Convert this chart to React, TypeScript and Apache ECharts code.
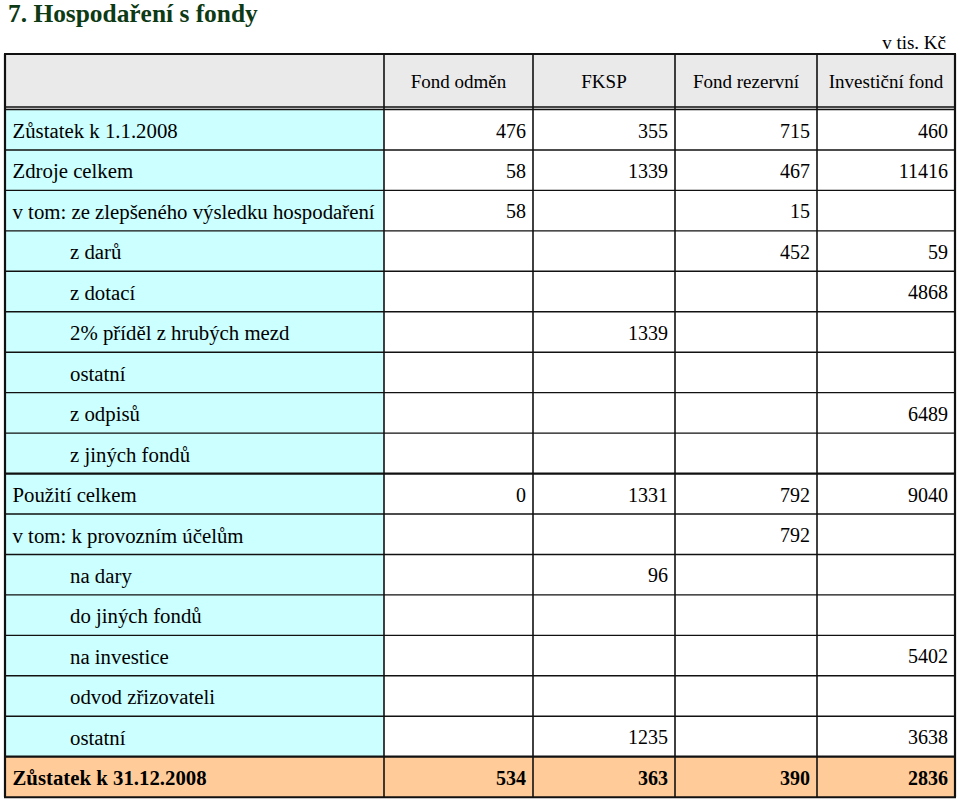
import React, { useEffect, useRef } from "react";
import * as echarts from "echarts";

// ---- data ----
const title = "7. Hospodaření s fondy";
const unitNote = "v tis. Kč";
const columnHeaders = ["Fond odměn", "FKSP", "Fond rezervní", "Investiční fond"];
const rowLabels = [
  "Zůstatek k 1.1.2008",
  "Zdroje celkem",
  "v tom: ze zlepšeného výsledku hospodaření",
  "z darů",
  "z dotací",
  "2% příděl z hrubých mezd",
  "ostatní",
  "z odpisů",
  "z jiných fondů",
  "Použití celkem",
  "v tom: k provozním účelům",
  "na dary",
  "do jiných fondů",
  "na investice",
  "odvod zřizovateli",
  "ostatní",
  "Zůstatek k 31.12.2008",
];
const indentedRows = [3, 4, 5, 6, 7, 8, 11, 12, 13, 14, 15];
const fondOdmen = [476, 58, 58, null, null, null, null, null, null, 0, null, null, null, null, null, null, 534];
const fksp = [355, 1339, null, null, null, 1339, null, null, null, 1331, null, 96, null, null, null, 1235, 363];
const fondRezervni = [715, 467, 15, 452, null, null, null, null, null, 792, 792, null, null, null, null, null, 390];
const investicniFond = [460, 11416, null, 59, 4868, null, null, 6489, null, 9040, null, null, null, 5402, null, 3638, 2836];
const seriesValues = [fondOdmen, fksp, fondRezervni, investicniFond];

// ---- layout / style ----
const colEdges = [5, 384, 533, 675, 817, 955];
const headerTop = 54;
const firstRowTop = 109.5;
const rowH = 40.45;
const FONT = "'Liberation Serif', serif";
const FS_HEADER = 19;
const FS_LABEL = 20.8;
const FS_NUM = 20;
const CYAN = "#CCFFFF";
const GRAY = "#EAEAEA";
const ORANGE = "#FFCC99";
const LINE = "#111111";

function txt(text: string, x: number, y: number, align: string, bold: boolean, size: number, fill = "#000") {
  return {
    type: "text",
    z: 10,
    style: {
      text,
      x,
      y,
      fill,
      fontFamily: "Liberation Serif",
      fontSize: size,
      fontWeight: bold ? "bold" : "normal",
      font: `${bold ? "bold " : ""}${size}px ${FONT}`,
      align,
      verticalAlign: "middle",
      textAlign: align,
      textVerticalAlign: "middle",
    },
  };
}

function line(x1: number, y1: number, x2: number, y2: number, w: number) {
  return {
    type: "line",
    z: 20,
    shape: { x1, y1, x2, y2 },
    style: { stroke: LINE, lineWidth: w },
  };
}

function rect(x: number, y: number, w: number, h: number, fill: string) {
  return { type: "rect", z: 1, shape: { x, y, width: w, height: h }, style: { fill } };
}

function buildGraphic() {
  const els: any[] = [];
  const nRows = rowLabels.length;
  const bottom = firstRowTop + nRows * rowH;
  const left = colEdges[0];
  const right = colEdges[colEdges.length - 1];

  // title & unit
  els.push(txt(title, 8, 13, "left", true, 25.4, "#0d3a15"));
  els.push(txt(unitNote, 946, 42, "right", false, FS_HEADER));

  // header background
  els.push(rect(left, headerTop, right - left, firstRowTop - headerTop, GRAY));
  columnHeaders.forEach((h, i) => {
    const cx = (colEdges[i + 1] + colEdges[i + 2]) / 2;
    els.push(txt(h, cx, 81, "center", false, FS_HEADER));
  });

  // rows
  rowLabels.forEach((label, r) => {
    const top = firstRowTop + r * rowH;
    const cy = top + rowH / 2 + 0.8;
    const isLast = r === nRows - 1;
    if (isLast) {
      els.push(rect(left, top, right - left, rowH, ORANGE));
    } else {
      els.push(rect(left, top, colEdges[1] - left, rowH, CYAN));
      els.push(rect(colEdges[1], top, right - colEdges[1], rowH, "#FFFFFF"));
    }
    const indent = indentedRows.indexOf(r) >= 0;
    els.push(txt(label, indent ? 70 : 12.5, cy, "left", isLast, FS_LABEL));
    seriesValues.forEach((vals, c) => {
      const v = vals[r];
      if (v !== null && v !== undefined) {
        els.push(txt(String(v), colEdges[c + 2] - 7, cy, "right", isLast, FS_NUM));
      }
    });
  });

  // horizontal lines
  els.push(line(left - 1, headerTop, right + 1, headerTop, 2));
  els.push(line(left, firstRowTop - 2.5, right, firstRowTop - 2.5, 1.3));
  els.push(line(left, firstRowTop, right, firstRowTop, 1.3));
  for (let r = 1; r < nRows; r++) {
    const y = firstRowTop + r * rowH;
    const thick = r === 9 || r === nRows - 1;
    els.push(line(left, y, right, y, thick ? 2.2 : 1.4));
  }
  els.push(line(left - 1, bottom, right + 1, bottom, 2));

  // vertical lines
  colEdges.forEach((x, i) => {
    const outer = i === 0 || i === colEdges.length - 1;
    els.push(line(x, headerTop, x, bottom, outer ? 2.2 : 1.6));
  });

  return els;
}

export default function App() {
  const ref = useRef<HTMLDivElement>(null);
  useEffect(() => {
    if (!ref.current) return;
    const chart = echarts.init(ref.current, undefined, { renderer: "svg" });
    chart.setOption({
      animation: false,
      backgroundColor: "#ffffff",
      graphic: { elements: buildGraphic() },
    });
    return () => chart.dispose();
  }, []);
  return (
    <div
      ref={ref}
      style={{ position: "fixed", left: 0, top: 0, width: 960, height: 800 }}
    />
  );
}
